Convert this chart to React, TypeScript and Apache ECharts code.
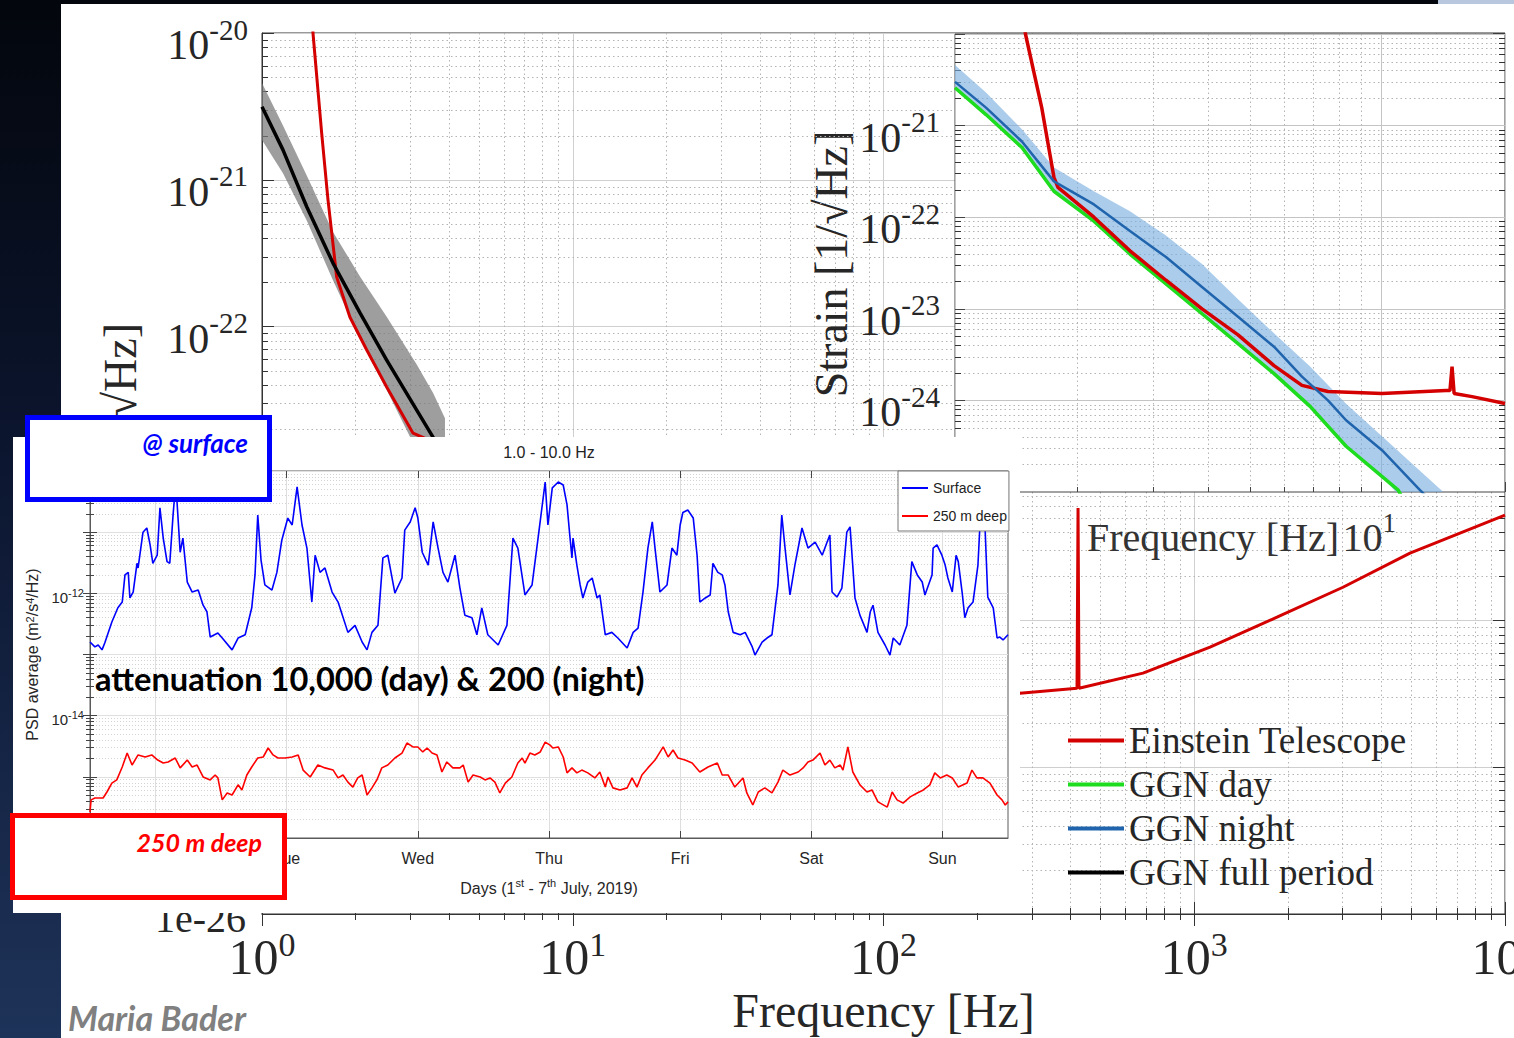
import React, { useEffect, useRef } from 'react';
import * as echarts from 'echarts';

// ---------- main frequency plot (Hz, strain 1/sqrt(Hz)) ----------
const ET_MAIN: [number, number][] = [
  [1.454, 1.23e-20], [1.459, 1.0e-20], [1.556, 2.08e-21], [1.631, 7.28e-22], [1.677, 4.34e-22],
  [1.739, 2.18e-22], [1.919, 1.16e-22], [2.173, 6.93e-23], [2.519, 3.88e-23], [3.062, 1.88e-23],
  [275, 3.19e-25], [419.5, 3.45e-25], [422.7, 5.81e-24], [425.7, 3.45e-25], [684, 4.37e-25],
  [1124, 6.57e-25], [1846, 1.05e-24], [3010, 1.68e-24], [4946, 2.87e-24], [10000, 5.21e-24],
];
const FULL_F = [1.0, 1.168, 1.393, 1.692, 2.067, 2.519, 3.147, 3.55, 3.88];
const FULL_S = [3.15e-21, 1.6e-21, 6.56e-22, 2.71e-22, 1.24e-22, 5.92e-23, 2.7e-23, 1.77e-23, 1.05e-23];
const FULL_UP = [4.56e-21, 2.34e-21, 1.07e-21, 4.41e-22, 2.2e-22, 1.17e-22, 5.52e-23, 3.55e-23, 2.38e-23];
const FULL_LO = [1.87e-21, 1.11e-21, 5.28e-22, 2.07e-22, 8.28e-23, 3.7e-23, 1.44e-23, 8.6e-24, 5.9e-24];

// ---------- top-right inset ----------
const INS_ET: [number, number][] = [
  [1.51, 1.42e-20], [1.523, 1.0e-20], [1.66, 1.57e-21], [1.771, 2.72e-22], [1.809, 2.12e-22],
  [2.188, 1.0e-22], [2.648, 4.3e-23], [3.204, 2.05e-23], [3.877, 1.0e-23], [4.691, 5.2e-24],
  [5.675, 2.4e-24], [6.58, 1.46e-24], [7.55, 1.25e-24], [10.05, 1.19e-24], [14.1, 1.28e-24],
  [14.4, 1.28e-24], [14.56, 2.34e-24], [14.72, 1.19e-24], [16.19, 1.1e-24], [19.27, 9.27e-25],
];
const GGN_DAY: [number, number][] = [
  [1.049, 2.59e-21], [1.236, 1.32e-21], [1.495, 5.77e-22], [1.771, 1.92e-22], [2.188, 9.06e-23],
  [2.648, 3.96e-23], [3.204, 1.87e-23], [3.877, 8.83e-24], [4.691, 4.17e-24], [5.675, 1.96e-24],
  [6.87, 8.61e-25], [8.31, 3.16e-25], [10.95, 1.05e-25], [11.2, 8.6e-26],
];
const GGN_NIGHT: [number, number][] = [
  [1.049, 3.0e-21], [1.236, 1.57e-21], [1.495, 6.7e-22], [1.771, 2.46e-22], [2.188, 1.38e-22],
  [2.648, 7.05e-23], [3.204, 3.67e-23], [3.877, 1.73e-23], [4.691, 8.18e-24], [5.675, 3.86e-24],
  [6.58, 1.82e-24], [7.55, 1.0e-24], [8.31, 6.07e-25], [10.05, 2.86e-25], [12.29, 1.05e-25], [12.82, 8.6e-26],
];
const BAND_F = [1.049, 1.236, 1.495, 1.771, 2.188, 2.648, 3.204, 3.877, 4.691, 5.675, 6.87, 8.31, 10.05, 12.3, 14.4];
const BAND_UP = [4.6e-21, 2.3e-21, 9.1e-22, 3.49e-22, 1.92e-22, 1.16e-22, 6.3e-23, 3.08e-23, 1.27e-23, 5.4e-24, 2.34e-24, 9.2e-25, 4.06e-25, 1.7e-25, 8.6e-26];
const BAND_LO = [2.59e-21, 1.32e-21, 5.77e-22, 1.92e-22, 9.06e-23, 3.96e-23, 1.87e-23, 8.83e-24, 4.17e-24, 1.96e-24, 8.61e-25, 3.16e-25, 1.48e-25, 5.0e-26, 2.0e-26];

// log-axis minor grid positions (k x 10^e)
const MINOR_K = [2, 3, 4, 5, 6, 7, 8, 9];
const MAIN_DECADES = [-26, -25, -24, -23, -22, -21];
const INSET_DECADES = [-25, -24, -23, -22, -21];

// ---------- PSD time series (hours since 1 July 00:00) ----------
const DAY_TICKS = [12, 36, 60, 84, 108, 132, 156];
const DAY_LABELS = ['Mon', 'Tue', 'Wed', 'Thu', 'Fri', 'Sat', 'Sun'];
const SURFACE: [number, number][] = [
  [0, 1.6e-13], [0.9, 1.33e-13], [1.5, 1.43e-13], [2.2, 1.19e-13], [2.7, 1.54e-13], [4.0, 3.4e-13],
  [5.1, 5.8e-13], [5.9, 7.2e-13], [6.4, 2.0e-12], [7.0, 2.2e-12], [7.3, 8.4e-13], [7.9, 1.05e-12],
  [8.6, 3.1e-12], [8.8, 2.6e-12], [9.7, 1.0e-11], [10.4, 1.17e-11], [11.0, 6.2e-12], [11.5, 3.1e-12],
  [12.3, 4.2e-12], [12.8, 2.5e-11], [13.4, 8.0e-12], [14.1, 3.3e-12], [14.6, 3.1e-12], [15.2, 1.9e-11],
  [15.7, 6.6e-11], [16.5, 4.7e-12], [17.0, 8.0e-12], [17.8, 1.53e-12], [18.7, 1.05e-12], [19.8, 1.13e-12],
  [20.7, 6.4e-13], [21.4, 5.0e-13], [22.0, 1.93e-13], [23.4, 2.25e-13], [24.2, 1.86e-13], [26.0, 1.19e-13],
  [27.1, 1.86e-13], [28.4, 2.1e-13], [29.6, 5.8e-13], [30.2, 2.0e-12], [30.7, 1.9e-11], [31.3, 3.5e-12],
  [32.0, 1.37e-12], [33.3, 1.13e-12], [34.2, 2.2e-12], [35.1, 7.4e-12], [36.2, 1.7e-11], [37.0, 1.31e-11],
  [37.9, 5.5e-11], [38.8, 1.31e-11], [39.7, 5.5e-12], [40.6, 7.2e-13], [41.2, 4.2e-12], [42.1, 2.2e-12],
  [43.0, 2.6e-12], [44.3, 1.05e-12], [45.4, 7.2e-13], [47.2, 2.3e-13], [48.5, 3.0e-13], [49.8, 1.6e-13],
  [50.7, 1.19e-13], [51.6, 2.3e-13], [52.7, 3.0e-13], [53.6, 3.8e-12], [54.5, 4.2e-12], [55.8, 1.01e-12],
  [57.1, 1.78e-12], [57.6, 1.08e-11], [58.6, 1.47e-11], [59.5, 2.5e-11], [60.0, 1.7e-11], [60.8, 4.7e-12],
  [61.9, 2.9e-12], [62.8, 1.47e-11], [63.7, 5.5e-12], [64.6, 2.2e-12], [65.5, 1.53e-12], [66.8, 4.2e-12],
  [67.7, 1.22e-12], [68.6, 4.4e-13], [69.9, 4.0e-13], [70.8, 2.1e-13], [71.7, 5.8e-13], [72.8, 2.1e-13],
  [74.7, 1.43e-13], [76.3, 3.0e-13], [77.4, 8.0e-12], [78.3, 5.5e-12], [79.6, 9.4e-13], [80.9, 1.37e-12],
  [82.0, 8.0e-12], [83.3, 6.6e-11], [83.8, 1.31e-11], [84.6, 5.3e-11], [85.7, 6.6e-11], [86.6, 5.9e-11],
  [87.3, 2.8e-11], [87.8, 9.0e-12], [88.2, 3.8e-12], [88.4, 8.0e-12], [89.1, 2.9e-12], [89.7, 1.37e-12],
  [90.2, 8.4e-13], [91.1, 1.53e-12], [91.9, 1.78e-12], [92.8, 8.4e-13], [93.3, 9.4e-13], [94.3, 2.1e-13],
  [95.5, 2.3e-13], [96.6, 1.86e-13], [98.3, 1.28e-13], [99.4, 2.3e-13], [100.3, 2.7e-13], [101.2, 1.05e-12],
  [102.1, 5.5e-12], [102.9, 1.47e-11], [103.4, 5.5e-12], [104.3, 1.05e-12], [105.6, 1.37e-12], [106.5, 5.5e-12],
  [107.4, 4.2e-12], [108.0, 1.31e-11], [108.5, 2.1e-11], [109.4, 2.3e-11], [110.4, 1.7e-11], [111.1, 4.2e-12],
  [111.6, 7.2e-13], [112.6, 8.4e-13], [113.5, 9.4e-13], [114.0, 3.1e-12], [114.9, 2.2e-12], [115.7, 2.0e-12],
  [116.2, 1.37e-12], [116.8, 5.0e-13], [117.7, 2.3e-13], [119.0, 2.1e-13], [119.9, 2.3e-13], [121.2, 1.33e-13],
  [121.7, 9.8e-14], [123.0, 1.6e-13], [123.9, 1.86e-13], [124.8, 2.1e-13], [125.9, 1.37e-12], [126.6, 1.9e-11],
  [127.2, 5.5e-12], [128.1, 9.4e-13], [129.0, 2.9e-12], [130.3, 1.17e-11], [131.4, 5.5e-12], [132.7, 6.9e-12],
  [134.0, 4.2e-12], [134.9, 6.9e-12], [135.4, 9.0e-12], [135.8, 1.05e-12], [136.7, 8.7e-13], [137.6, 1.22e-12],
  [138.5, 1.0e-11], [139.1, 1.22e-11], [140.0, 8.4e-13], [140.9, 4.4e-13], [142.2, 2.3e-13], [142.8, 5.0e-13],
  [143.3, 6.4e-13], [144.2, 2.3e-13], [145.5, 1.43e-13], [146.4, 9.8e-14], [147.0, 1.86e-13], [148.2, 1.43e-13],
  [149.5, 3.0e-13], [150.4, 3.3e-12], [151.4, 2.0e-12], [152.3, 1.53e-12], [152.8, 9.4e-13], [154.1, 2.0e-12],
  [154.3, 5.5e-12], [155.0, 6.2e-12], [155.9, 4.2e-12], [156.5, 2.9e-12], [157.0, 1.78e-12], [157.8, 1.05e-12],
  [158.5, 4.2e-12], [158.9, 3.3e-12], [159.6, 1.05e-12], [160.1, 4.0e-13], [160.7, 5.8e-13], [161.6, 7.2e-13],
  [162.5, 2.9e-12], [163.1, 3.4e-11], [163.6, 3.4e-11], [164.3, 8.7e-13], [165.3, 5.8e-13], [166.0, 1.86e-13],
  [166.5, 1.93e-13], [167.1, 1.73e-13], [168, 2.1e-13],
];
const DEEP: [number, number][] = [
  [0, 2.66e-16], [0.2, 4.2e-16], [0.9, 4.5e-16], [2.4, 4.5e-16], [3.1, 5.65e-16], [4.0, 7.9e-16],
  [4.9, 8.9e-16], [5.9, 1.45e-15], [6.8, 2.45e-15], [7.7, 1.56e-15], [8.8, 2.28e-15], [10.1, 2.11e-15],
  [11.3, 2.28e-15], [12.4, 1.88e-15], [13.4, 1.68e-15], [14.3, 1.75e-15], [15.6, 2.03e-15], [16.5, 1.4e-15],
  [17.8, 1.88e-15], [18.7, 1.45e-15], [19.6, 1.56e-15], [20.7, 9.95e-16], [22.0, 8.9e-16], [22.9, 1.07e-15],
  [23.4, 9.6e-16], [24.2, 4.2e-16], [25.1, 5.45e-16], [26.0, 5.05e-16], [27.1, 7.4e-16], [27.8, 6.1e-16],
  [28.7, 1.07e-15], [29.6, 1.45e-15], [30.7, 2.03e-15], [31.7, 2.11e-15], [32.6, 2.96e-15], [33.5, 2.28e-15],
  [34.4, 2.03e-15], [35.7, 2.03e-15], [37.0, 2.11e-15], [38.1, 2.28e-15], [39.0, 1.29e-15], [40.3, 9.95e-16],
  [41.7, 1.56e-15], [43.0, 1.4e-15], [44.5, 1.29e-15], [45.4, 9.6e-16], [46.3, 1.07e-15], [47.2, 8.2e-16],
  [48.1, 6.8e-16], [49.0, 9.6e-16], [49.8, 1.07e-15], [50.7, 5.05e-16], [51.6, 6.6e-16], [52.5, 8.9e-16],
  [53.4, 1.4e-15], [54.5, 1.56e-15], [55.8, 2.03e-15], [57.1, 2.45e-15], [58.0, 3.57e-15], [59.1, 3.08e-15],
  [60.0, 3.08e-15], [60.9, 2.55e-15], [61.7, 2.96e-15], [62.6, 2.45e-15], [63.5, 2.28e-15], [64.4, 1.2e-15],
  [65.3, 1.75e-15], [66.4, 1.4e-15], [67.7, 1.4e-15], [68.3, 1.56e-15], [69.2, 8.2e-16], [70.1, 1.07e-15],
  [71.4, 9.95e-16], [72.3, 8.9e-16], [73.2, 9.6e-16], [74.1, 8.2e-16], [75.0, 5.45e-16], [76.0, 7.9e-16],
  [77.2, 9.95e-16], [78.3, 1.68e-15], [79.1, 2.03e-15], [79.6, 1.68e-15], [80.5, 2.45e-15], [81.4, 2.28e-15],
  [82.4, 2.55e-15], [83.3, 3.7e-15], [84.2, 3.3e-15], [84.7, 2.96e-15], [85.7, 3.08e-15], [86.6, 2.11e-15],
  [87.3, 1.16e-15], [88.2, 1.4e-15], [89.1, 1.16e-15], [90.0, 1.29e-15], [91.1, 1.16e-15], [92.4, 9.6e-16],
  [93.3, 1.2e-15], [94.3, 6.8e-16], [94.8, 9.95e-16], [95.7, 6.6e-16], [97.0, 6.1e-16], [98.3, 6.6e-16],
  [99.2, 9.6e-16], [100.1, 6.8e-16], [101.0, 1.07e-15], [102.1, 1.4e-15], [103.4, 1.88e-15], [104.9, 3.08e-15],
  [105.8, 2.11e-15], [106.7, 2.75e-15], [107.6, 2.03e-15], [108.9, 1.88e-15], [110.2, 1.68e-15], [111.6, 1.2e-15],
  [113.1, 1.45e-15], [114.8, 1.68e-15], [115.7, 1.07e-15], [116.8, 1.07e-15], [118.0, 6.8e-16], [119.5, 9.6e-16],
  [120.2, 5.45e-16], [121.3, 3.47e-16], [122.3, 5.65e-16], [123.5, 6.6e-16], [124.8, 5.45e-16], [125.9, 8.2e-16],
  [126.8, 1.29e-15], [128.1, 1.07e-15], [129.6, 1.2e-15], [130.5, 1.4e-15], [131.4, 1.75e-15], [132.3, 1.88e-15],
  [133.6, 2.45e-15], [134.5, 1.56e-15], [135.4, 1.88e-15], [136.3, 1.4e-15], [137.3, 1.56e-15], [137.8, 1.29e-15],
  [138.7, 3.08e-15], [139.6, 1.2e-15], [140.9, 7.4e-16], [142.2, 5.65e-16], [143.1, 6.1e-16], [144.2, 3.9e-16],
  [145.9, 3.2e-16], [146.8, 5.65e-16], [147.7, 4.2e-16], [148.8, 3.73e-16], [150.1, 4.7e-16], [151.4, 5.45e-16],
  [152.5, 6.1e-16], [153.7, 7.4e-16], [154.6, 1.16e-15], [155.6, 9.6e-16], [156.8, 1.07e-15], [157.8, 9.6e-16],
  [158.9, 6.8e-16], [160.5, 7.9e-16], [161.4, 1.29e-15], [162.3, 9.6e-16], [163.4, 9.6e-16], [164.7, 7.9e-16],
  [166.0, 5.05e-16], [166.9, 4.2e-16], [167.5, 3.47e-16], [168, 3.9e-16],
];

const SERIF = '"Liberation Serif", "DejaVu Serif", serif';
const SANS = '"Liberation Sans", Arial, sans-serif';
const CAL = 'Lato, "Open Sans", sans-serif';
const TXT = '#262626';

const zip = (a: number[], b: number[]) => a.map((v, i) => [v, b[i]]);
const expOf = (v: number) => Math.round(Math.log10(v));
const minorValues = (decades: number[]) => decades.flatMap((e) => MINOR_K.map((k) => k * Math.pow(10, e)));

const bigRich = (b: number, s: number) => ({
  b: { fontFamily: SERIF, fontSize: b, lineHeight: 60, color: TXT, fill: TXT },
  s: { fontFamily: SERIF, fontSize: s, lineHeight: 24, verticalAlign: 'top', color: TXT, fill: TXT },
});

const majorLine = { show: true, lineStyle: { color: '#cfcfcf', width: 1 } };
const minorLine = { show: true, lineStyle: { color: '#b4b4b4', width: 1, type: [1.5, 3] } };

function lineSeries(name: string, data: any, color: string, width: number, xi: number, yi: number, z: number) {
  return {
    type: 'line', name, data, color, xAxisIndex: xi, yAxisIndex: yi, z,
    symbol: 'none', showSymbol: false, silent: true, clip: true,
    lineStyle: { color, width }, emphasis: { disabled: true },
  };
}

// shaded band between an upper and a lower curve, drawn as one polygon through the axes
function bandSeries(name: string, f: number[], lo: number[], up: number[], fill: string, xi: number, yi: number, z: number) {
  const pts = [...zip(f, up), ...zip(f, lo).reverse()];
  return {
    type: 'custom', name, xAxisIndex: xi, yAxisIndex: yi, z, silent: true, data: pts,
    renderItem: (params: any, api: any) => {
      if (params.dataIndex !== 0) return null;
      const cs = params.coordSys;
      return {
        type: 'polygon',
        shape: { points: pts.map((p) => api.coord(p)) },
        style: { fill },
        clipPath: { type: 'rect', shape: { x: cs.x, y: cs.y, width: cs.width, height: cs.height } },
      };
    },
  };
}

// horizontal dotted minor grid lines + inside minor ticks for a log y axis
function minorGridSeries(name: string, values: number[], xAnchor: number, xi: number, yi: number, z: number) {
  return {
    type: 'custom', name, xAxisIndex: xi, yAxisIndex: yi, z, silent: true,
    data: values.map((v) => [xAnchor, v]),
    renderItem: (params: any, api: any) => {
      const cs = params.coordSys;
      const y = Math.round(api.coord([xAnchor, api.value(1)])[1]) + 0.5;
      if (y < cs.y || y > cs.y + cs.height) return null;
      return {
        type: 'group',
        children: [
          { type: 'line', shape: { x1: cs.x, y1: y, x2: cs.x + cs.width, y2: y }, style: { stroke: '#b4b4b4', lineWidth: 1, lineDash: [1.5, 3] } },
          { type: 'line', shape: { x1: cs.x, y1: y, x2: cs.x + 6, y2: y }, style: { stroke: '#333', lineWidth: 1 } },
          { type: 'line', shape: { x1: cs.x + cs.width - 6, y1: y, x2: cs.x + cs.width, y2: y }, style: { stroke: '#333', lineWidth: 1 } },
        ],
      };
    },
  };
}

const gridBase = { show: true, borderWidth: 1, backgroundColor: 'transparent', containLabel: false, outerBoundsMode: 'none' };

export default function App() {
  const ref = useRef<HTMLDivElement>(null);

  useEffect(() => {
    if (!ref.current) return;
    const chart = echarts.init(ref.current, null, { renderer: 'svg' });

    const psdRich = {
      b: { fontFamily: SANS, fontSize: 15, lineHeight: 20, color: TXT },
      s: { fontFamily: SANS, fontSize: 11, lineHeight: 8, verticalAlign: 'top', color: TXT },
    };

    const option: any = {
      animation: false,
      backgroundColor: 'transparent',
      grid: [
        { ...gridBase, left: 262, top: 33, width: 1243, height: 881, borderColor: '#333' },
        { ...gridBase, left: 955, top: 34, width: 550, height: 458, borderColor: '#444', z: 11 },
        { ...gridBase, left: 90, top: 471, width: 918, height: 367, borderColor: '#5a5a5a', z: 31 },
      ],
      xAxis: [
        {
          type: 'log', gridIndex: 0, min: 1, max: 10000, position: 'bottom',
          axisLine: { show: true, lineStyle: { color: '#333' } },
          axisTick: { show: true, inside: true, length: 12, lineStyle: { color: '#333' } },
          minorTick: { show: true, splitNumber: 9, length: 6, lineStyle: { color: '#333' } },
          splitLine: majorLine, minorSplitLine: minorLine,
          axisLabel: { formatter: (v: number) => `{b|10}{s|${expOf(v)}}`, margin: 13, rich: bigRich(50, 34) },
          name: 'Frequency [Hz]', nameLocation: 'middle', nameGap: 72,
          nameTextStyle: { fontFamily: SERIF, fontSize: 48, color: TXT },
        },
        {
          type: 'log', gridIndex: 0, min: 1, max: 10000, position: 'top',
          axisLine: { show: false },
          axisTick: { show: true, inside: true, length: 12, lineStyle: { color: '#333' } },
          minorTick: { show: true, splitNumber: 9, length: 6, lineStyle: { color: '#333' } },
          splitLine: { show: false }, axisLabel: { show: false },
        },
        {
          type: 'log', gridIndex: 1, min: 1.049, max: 19.27, z: 11,
          axisLine: { show: false },
          axisTick: { show: true, inside: true, length: 10, lineStyle: { color: '#444' } },
          minorTick: { show: true, splitNumber: 9, length: 5, lineStyle: { color: '#444' } },
          splitLine: { show: true, lineStyle: { color: '#c4c4c4' } }, minorSplitLine: minorLine,
          axisLabel: { show: false },
        },
        {
          type: 'value', gridIndex: 2, min: 0, max: 168, z: 31,
          axisLine: { show: true, lineStyle: { color: '#5a5a5a' } },
          axisTick: { show: true, inside: true, length: 7, customValues: DAY_TICKS, lineStyle: { color: '#444' } },
          axisLabel: {
            customValues: DAY_TICKS, margin: 12, fontFamily: SANS, fontSize: 16, color: TXT,
            formatter: (v: number) => DAY_LABELS[DAY_TICKS.indexOf(Math.round(v))] ?? '',
          },
          splitLine: { show: true, lineStyle: { color: '#dedede' } },
          name: '{a|Days (1}{s|st}{a| - 7}{s|th}{a| July, 2019)}', nameLocation: 'middle', nameGap: 39,
          nameTextStyle: {
            rich: {
              a: { fontFamily: SANS, fontSize: 16, lineHeight: 22, color: TXT },
              s: { fontFamily: SANS, fontSize: 11, lineHeight: 8, verticalAlign: 'top', color: TXT },
            },
          },
        },
        {
          type: 'value', gridIndex: 2, min: 0, max: 168, position: 'top', z: 31,
          axisLine: { show: false },
          axisTick: { show: true, inside: true, length: 7, customValues: DAY_TICKS, lineStyle: { color: '#444' } },
          axisLabel: { show: false }, splitLine: { show: false },
        },
      ],
      yAxis: [
        {
          type: 'log', gridIndex: 0, min: 1e-26, max: 1e-20, position: 'left',
          axisLine: { show: true, lineStyle: { color: '#333' } },
          axisTick: { show: true, inside: true, length: 12, lineStyle: { color: '#333' } },
          splitLine: majorLine,
          axisLabel: {
            formatter: (v: number) => (expOf(v) === -26 ? '' : `{b|10}{s|${expOf(v)}}`),
            margin: 14, padding: [24, 0, 0, 0], rich: bigRich(42, 29),
          },
        },
        {
          type: 'log', gridIndex: 0, min: 1e-26, max: 1e-20, position: 'right',
          axisLine: { show: false },
          axisTick: { show: true, inside: true, length: 12, lineStyle: { color: '#333' } },
          splitLine: { show: false }, axisLabel: { show: false },
        },
        {
          type: 'log', gridIndex: 1, min: 1e-25, max: 1e-20, z: 11,
          axisLine: { show: false },
          axisTick: { show: true, inside: true, length: 10, lineStyle: { color: '#444' } },
          splitLine: { show: true, lineStyle: { color: '#c4c4c4' } },
          axisLabel: {
            formatter: (v: number) => (expOf(v) === -20 ? '' : `{b|10}{s|${expOf(v)}}`),
            margin: 15, padding: [24, 0, 0, 0], rich: bigRich(42, 29),
          },
        },
        {
          type: 'log', gridIndex: 2, min: 1e-16, max: 1e-10, z: 31,
          axisLine: { show: true, lineStyle: { color: '#5a5a5a' } },
          axisTick: { show: true, inside: true, length: 7, lineStyle: { color: '#444' } },
          minorTick: { show: true, splitNumber: 9, length: 4, lineStyle: { color: '#444' } },
          splitLine: { show: true, lineStyle: { color: '#e0e0e0' } },
          minorSplitLine: { show: true, lineStyle: { color: '#d4d4d4', type: [1, 2] } },
          axisLabel: {
            formatter: (v: number) => (expOf(v) % 2 === 0 ? `{b|10}{s|${expOf(v)}}` : ''),
            margin: 6, padding: [8, 0, 0, 0], rich: psdRich,
          },
          name: 'PSD average (m{s|2}/s{s|4}/Hz)', nameLocation: 'middle', nameGap: 45,
          nameTextStyle: { rich: { s: psdRich.s }, fontFamily: SANS, fontSize: 16, color: TXT },
        },
        {
          type: 'log', gridIndex: 2, min: 1e-16, max: 1e-10, position: 'right', z: 31,
          axisLine: { show: false },
          axisTick: { show: true, inside: true, length: 7, lineStyle: { color: '#444' } },
          minorTick: { show: true, splitNumber: 9, length: 4, lineStyle: { color: '#444' } },
          splitLine: { show: false }, axisLabel: { show: false },
        },
      ],
      legend: [
        {
          data: ['Einstein Telescope', 'GGN day', 'GGN night', 'GGN full period'],
          orient: 'vertical', left: 1063, top: 717, icon: 'rect', itemWidth: 56, itemHeight: 4, itemGap: 7,
          selectedMode: false, z: 6,
          textStyle: { fontFamily: SERIF, fontSize: 37, lineHeight: 37, color: TXT },
        },
        {
          data: ['Surface', '250 m deep'],
          orient: 'vertical', left: 898, top: 471, icon: 'rect', itemWidth: 26, itemHeight: 2, itemGap: 14,
          padding: [10, 2, 8, 4], backgroundColor: '#fff', borderColor: '#777', borderWidth: 1,
          selectedMode: false, z: 35,
          textStyle: { fontFamily: SANS, fontSize: 14, color: '#222' },
        },
      ],
      graphic: {
        elements: [
          {
            type: 'text', z: 1, x: 120, y: 323, rotation: Math.PI / 2,
            style: { text: 'Strain [1/√Hz]', font: `46px ${SERIF}`, fill: TXT, textAlign: 'right', align: 'right', textVerticalAlign: 'middle', verticalAlign: 'middle' },
          },
          {
            type: 'text', z: 1, x: 246, y: 918,
            style: { text: '1e-26', font: `40px ${SERIF}`, fill: TXT, textAlign: 'right', align: 'right', textVerticalAlign: 'middle', verticalAlign: 'middle' },
          },
          {
            type: 'text', z: 1, x: 831, y: 264, rotation: Math.PI / 2,
            style: { text: 'Strain [1/√Hz]', font: `46px ${SERIF}`, fill: TXT, textAlign: 'center', align: 'center', textVerticalAlign: 'middle', verticalAlign: 'middle' },
          },
          { type: 'rect', z: 10, silent: true, shape: { x: 955, y: 34, width: 556, height: 458 }, style: { fill: '#fff' } },
          { type: 'rect', z: 30, silent: true, shape: { x: 13, y: 437, width: 1007, height: 476 }, style: { fill: '#fff' } },
          {
            type: 'text', z: 35, x: 549, y: 452,
            style: { text: '1.0 - 10.0 Hz', font: `16px ${SANS}`, fill: '#222', textAlign: 'center', align: 'center', textVerticalAlign: 'middle', verticalAlign: 'middle' },
          },
          {
            type: 'text', z: 41, x: 95, y: 678,
            style: { text: 'attenuation 10,000 (day) & 200 (night)', font: `bold 32.6px ${CAL}`, fill: '#000', textVerticalAlign: 'middle', verticalAlign: 'middle' },
          },
          { type: 'rect', z: 40, shape: { x: 27.5, y: 417.5, width: 242, height: 82 }, style: { fill: '#fff', stroke: '#0000ff', lineWidth: 5 } },
          {
            type: 'text', z: 41, x: 248, y: 443,
            style: { text: '@ surface', font: `italic bold 26px ${CAL}`, fill: '#0000ff', textAlign: 'right', align: 'right', textVerticalAlign: 'middle', verticalAlign: 'middle' },
          },
          { type: 'rect', z: 40, shape: { x: 12.5, y: 815.5, width: 272, height: 82 }, style: { fill: '#fff', stroke: '#ff0000', lineWidth: 5 } },
          {
            type: 'text', z: 41, x: 262, y: 842,
            style: { text: '250 m deep', font: `italic bold 25px ${CAL}`, fill: '#ff0000', textAlign: 'right', align: 'right', textVerticalAlign: 'middle', verticalAlign: 'middle' },
          },
          {
            type: 'text', z: 6, x: 1087, y: 537,
            style: {
              text: '{a|Frequency [Hz]\u200a10}{s|1}', textVerticalAlign: 'middle', verticalAlign: 'middle',
              rich: {
                a: { fontFamily: SERIF, fontSize: 40, lineHeight: 56, fill: '#333', color: '#333' },
                s: { fontFamily: SERIF, fontSize: 27, lineHeight: 22, verticalAlign: 'top', fill: '#333', color: '#333' },
              },
            },
          },
          {
            type: 'text', z: 6, x: 68, y: 1017,
            style: { text: 'Maria Bader', font: `italic bold 34px ${CAL}`, fill: '#808080', textVerticalAlign: 'middle', verticalAlign: 'middle' },
          },
        ],
      },
      series: [
        minorGridSeries('main minor grid', minorValues(MAIN_DECADES), 1, 0, 0, 1),
        bandSeries('GGN full band', FULL_F, FULL_LO, FULL_UP, 'rgba(120,120,120,0.72)', 0, 0, 2),
        lineSeries('Einstein Telescope', ET_MAIN, '#d40000', 3, 0, 0, 3),
        lineSeries('GGN full period', zip(FULL_F, FULL_S), '#000000', 3.5, 0, 0, 3),
        minorGridSeries('inset minor grid', minorValues(INSET_DECADES), 1.049, 2, 2, 11),
        bandSeries('GGN night band', BAND_F, BAND_LO, BAND_UP, 'rgba(120,172,222,0.62)', 2, 2, 12),
        lineSeries('GGN day', GGN_DAY, '#1edc1e', 3.5, 2, 2, 12),
        lineSeries('Einstein Telescope', INS_ET, '#d40000', 3.5, 2, 2, 12),
        lineSeries('GGN night', GGN_NIGHT, '#1f64ad', 2.5, 2, 2, 12),
        lineSeries('Surface', SURFACE, '#0000ff', 1.6, 3, 3, 32),
        lineSeries('250 m deep', DEEP, '#ff0000', 1.6, 3, 3, 32),
      ],
    };

    chart.setOption(option);
    return () => chart.dispose();
  }, []);

  return (
    <div
      style={{
        position: 'fixed', left: 0, top: 0, width: 1514, height: 1038, overflow: 'hidden',
        background: 'linear-gradient(180deg, #03060c 0%, #0c1630 45%, #1e3359 100%)',
      }}
    >
      <div style={{ position: 'absolute', left: 61, top: 4, width: 1453, height: 1034, background: '#fff' }} />
      <div style={{ position: 'absolute', left: 1438, top: 0, width: 76, height: 4, background: '#b8c7dd' }} />
      <div ref={ref} style={{ position: 'absolute', left: 0, top: 0, width: 1514, height: 1038 }} />
    </div>
  );
}
